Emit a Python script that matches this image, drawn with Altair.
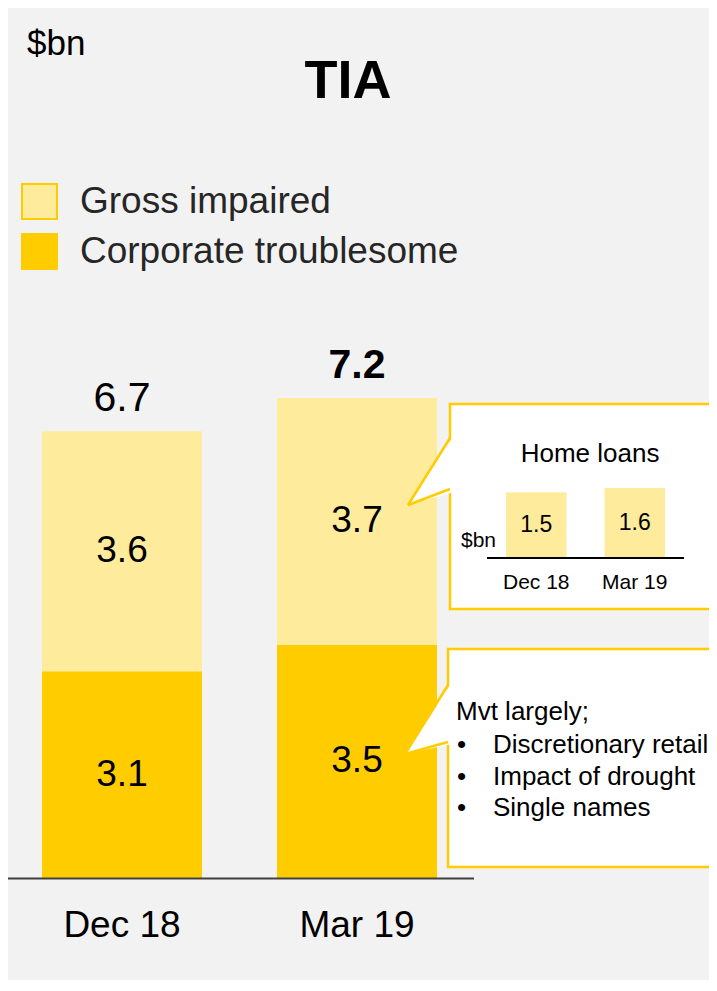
import altair as alt
import pandas as pd

# ---------------- data ----------------
periods = ["Dec 18", "Mar 19"]
segments = ["Gross impaired", "Corporate troublesome"]
corporate = [3.1, 3.5]
gross = [3.6, 3.7]
totals = [6.7, 7.2]
total_bold = [False, True]

inset_periods = ["Dec 18", "Mar 19"]
home_loans = [1.5, 1.6]

callout_title = "Mvt largely;"
callout_items = ["Discretionary retail", "Impact of drought", "Single names"]

LIGHT = "#ffeb9c"
DARK = "#ffcc00"
BG = "#f2f2f2"
FONT = "Liberation Sans"
INK = "#000000"

W, H = 701, 972

rows = []
for p, c, g in zip(periods, corporate, gross):
    rows.append(dict(period=p, segment="Corporate troublesome", start=0.0, end=c,
                     mid=c / 2, label=f"{c:.1f}"))
    rows.append(dict(period=p, segment="Gross impaired", start=c, end=c + g,
                     mid=c + g / 2, label=f"{g:.1f}"))
df_main = pd.DataFrame(rows)
df_tot = pd.DataFrame({"period": periods, "total": totals, "bold": total_bold,
                       "label": [f"{t:.1f}" for t in totals]})
df_inset = pd.DataFrame({"period": inset_periods, "value": home_loans,
                         "mid": [v / 2 for v in home_loans],
                         "label": [f"{v:.1f}" for v in home_loans]})
one = pd.DataFrame({"k": [0]})

# ---------------- main chart ----------------
xs = alt.Scale(domain=periods, range=[34, 429], paddingInner=0.319, paddingOuter=0)
ys = alt.Scale(domain=[0, 7.2], range=[870, 390])

X = alt.X("period:N", scale=xs, axis=None)

bars = alt.Chart(df_main).mark_bar().encode(
    x=X,
    y=alt.Y("start:Q", scale=ys, axis=None),
    y2="end:Q",
    color=alt.Color(
        "segment:N",
        scale=alt.Scale(domain=segments, range=[LIGHT, DARK]),
        legend=alt.Legend(
            orient="none", legendX=13, legendY=175, title=None,
            symbolType="square", symbolSize=1225, symbolStrokeColor=DARK,
            symbolStrokeWidth=2, symbolOpacity=1,
            labelFont=FONT, labelFontSize=37, labelColor="#262626",
            labelOffset=22, rowPadding=7, padding=0, labelLimit=600,
        ),
    ),
)

seg_text = alt.Chart(df_main).mark_text(
    font=FONT, fontSize=37, baseline="middle", color=INK
).encode(x=X, y=alt.Y("mid:Q", scale=ys, axis=None), text="label:N")

tot_reg = alt.Chart(df_tot).transform_filter("!datum.bold").mark_text(
    font=FONT, fontSize=41, baseline="alphabetic", dy=-20, color=INK
).encode(x=X, y=alt.Y("total:Q", scale=ys, axis=None), text="label:N")

tot_bold = alt.Chart(df_tot).transform_filter("datum.bold").mark_text(
    font=FONT, fontSize=41, fontWeight="bold", baseline="alphabetic", dy=-20, color=INK
).encode(x=X, y=alt.Y("total:Q", scale=ys, axis=None), text="label:N")

axis_text = alt.Chart(df_tot).mark_text(
    font=FONT, fontSize=37, baseline="alphabetic", color=INK
).encode(x=X, y=alt.value(929), text="period:N")

main = alt.layer(bars, seg_text, tot_reg, tot_bold, axis_text)

# ---------------- decorations ----------------
def rule(x1, y1, x2, y2, color, width):
    return alt.Chart(one).mark_rule(color=color, strokeWidth=width).encode(
        x=alt.value(x1), y=alt.value(y1), x2=alt.value(x2), y2=alt.value(y2))

def text(t, x, y, size, align="left", weight="normal", color=INK):
    return alt.Chart(one).mark_text(
        text=t, font=FONT, fontSize=size, align=align, baseline="alphabetic",
        fontWeight=weight, color=color
    ).encode(x=alt.value(x), y=alt.value(y))

def box(x1, y1, y2):
    return alt.Chart(one).mark_rect(
        fill="white", stroke=DARK, strokeWidth=2.5, clip=True
    ).encode(x=alt.value(x1), x2=alt.value(W + 10), y=alt.value(y1), y2=alt.value(y2))

def pointer_fill(cx, cy, path):
    return alt.Chart(one).mark_point(
        shape=path, filled=True, fill="white", opacity=1, strokeWidth=0, size=4
    ).encode(x=alt.value(cx), y=alt.value(cy))

# callout 1 (home loans)
c1 = [
    box(442, 396, 601),
    pointer_fill(442, 460, "M4,-33L-42,37L4,24Z"),
    rule(442, 430, 400, 497, DARK, 2.5),
    rule(400, 497, 442, 481, DARK, 2.5),
]
# callout 2 (movement)
c2 = [
    box(440, 641, 859),
    pointer_fill(440, 700, "M4,-26L-43,46L4,36Z"),
    rule(440, 677, 397, 746, DARK, 2.5),
    rule(397, 746, 440, 734, DARK, 2.5),
]

# inset chart
ixs = alt.Scale(domain=inset_periods, range=[498, 657], paddingInner=0.386, paddingOuter=0)
iys = alt.Scale(domain=[0, 1.6], range=[549, 480])
IX = alt.X("period:N", scale=ixs, axis=None)
inset_bars = alt.Chart(df_inset).mark_bar(color=LIGHT).encode(
    x=IX, y=alt.Y("value:Q", scale=iys, axis=None))
inset_lbl = alt.Chart(df_inset).mark_text(
    font=FONT, fontSize=23, baseline="middle", color=INK
).encode(x=IX, y=alt.Y("mid:Q", scale=iys, axis=None), text="label:N")
inset_axis = alt.Chart(df_inset).mark_text(
    font=FONT, fontSize=21, baseline="alphabetic", color=INK
).encode(x=IX, y=alt.value(581), text="period:N")
inset = alt.layer(inset_bars, inset_lbl, inset_axis)

texts = [
    text("$bn", 19, 47, 35),
    text("TIA", 340, 90, 54, align="center", weight="bold"),
    text("Home loans", 582, 454, 26, align="center"),
    text("$bn", 453, 539, 21),
    rule(479, 550, 676, 550, "#000000", 2),
    text(callout_title, 448, 712, 26),
]
for i, item in enumerate(callout_items):
    yb = 745 + i * 31.5
    texts.append(text("\u2022", 449, yb, 26))
    texts.append(text(item, 485, yb, 26))

baseline = rule(0, 870.5, 466, 870.5, "#404040", 2)

chart = alt.layer(
    main, *c1, *c2, inset, *texts, baseline
).resolve_scale(x="independent", y="independent").properties(
    width=W, height=H, background=BG, padding=0,
    autosize=alt.AutoSizeParams(type="none"),
).configure_view(stroke=None)

chart.save("out.html", embed_options={"renderer": "svg", "actions": False})
